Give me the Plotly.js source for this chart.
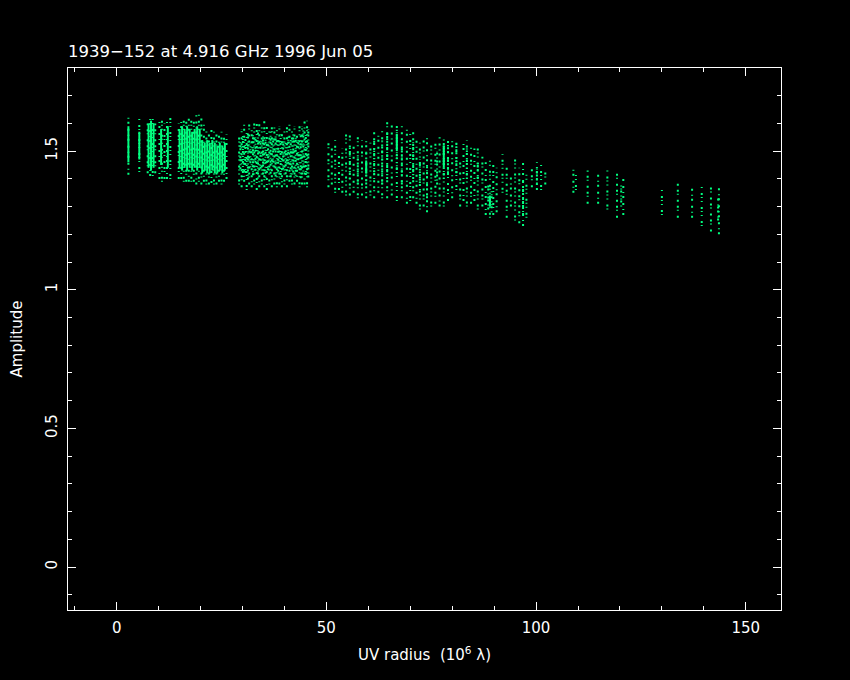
<!DOCTYPE html>
<html>
<head>
<meta charset="utf-8">
<script src="https://cdn.plot.ly/plotly-3.0.1.min.js"></script>
<style>html,body{margin:0;padding:0;background:#000;}#chart{width:850px;height:680px;}</style>
</head>
<body>
<div id="chart"></div>
<script>
// ---- Data (UV radius in 10^6 lambda, amplitude) ----
// Each visibility track: UV radius, lowest and highest amplitude of its scattered points
var trackX  = [2.8,5.4,7.4,8.0,8.6,9.2,10.2,10.8,11.4,12.0,12.8,14.8,15.4,16.0,16.6,17.2,17.8,18.4,19.0,19.6,20.2,20.8,21.4,22.0,22.6,23.2,23.8,24.4,25.0,25.6,26.2,
               29.2,29.8,30.4,31.0,31.6,32.2,32.8,33.4,34.0,34.6,35.2,35.8,36.4,37.0,37.6,38.2,38.8,39.4,40.0,40.6,41.2,41.8,42.4,43.0,43.6,44.2,44.8,45.4,
               50.5,51.3,52.1,53.0,53.8,54.7,55.6,56.5,57.5,58.5,59.5,60.5,61.4,62.4,63.3,64.5,65.6,66.8,68.0,69.2,70.0,70.7,71.5,72.3,73.2,74.0,75.0,76.0,77.0,78.0,79.0,80.0,81.0,81.9,82.7,83.5,84.5,85.3,86.1,87.2,88.0,89.0,89.8,90.6,92.0,93.0,94.0,95.0,96.0,96.9,97.7,99.0,100.2,101.2,102.2,
               108.9,109.5,112.3,114.8,117.0,119.3,120.8,130.0,133.8,137.2,139.5,141.7,143.6];
var trackLo = [1.415,1.425,1.42,1.41,1.41,1.42,1.40,1.39,1.40,1.40,1.40,1.40,1.40,1.39,1.39,1.39,1.39,1.39,1.38,1.39,1.38,1.39,1.38,1.38,1.385,1.38,1.38,1.39,1.38,1.39,1.40,
               1.38,1.37,1.39,1.36,1.38,1.37,1.38,1.36,1.37,1.38,1.37,1.36,1.38,1.37,1.38,1.37,1.38,1.37,1.38,1.37,1.39,1.38,1.38,1.39,1.37,1.38,1.38,1.37,
               1.37,1.38,1.35,1.36,1.35,1.34,1.34,1.35,1.33,1.34,1.33,1.34,1.33,1.35,1.33,1.33,1.34,1.32,1.33,1.31,1.32,1.33,1.31,1.29,1.30,1.28,1.30,1.31,1.30,1.30,1.32,1.33,1.36,1.30,1.32,1.30,1.31,1.32,1.29,1.30,1.27,1.26,1.27,1.28,1.35,1.26,1.30,1.25,1.24,1.23,1.26,1.37,1.36,1.36,1.38,
               1.35,1.36,1.31,1.31,1.29,1.26,1.27,1.27,1.26,1.26,1.23,1.21,1.20];
var trackHi = [1.625,1.62,1.60,1.63,1.62,1.60,1.61,1.62,1.60,1.61,1.62,1.60,1.61,1.62,1.62,1.63,1.61,1.62,1.63,1.64,1.62,1.60,1.58,1.57,1.58,1.57,1.56,1.57,1.57,1.56,1.56,
               1.55,1.58,1.60,1.57,1.61,1.59,1.60,1.61,1.60,1.59,1.61,1.60,1.58,1.59,1.60,1.58,1.59,1.57,1.58,1.59,1.60,1.58,1.59,1.57,1.60,1.59,1.61,1.61,
               1.54,1.51,1.54,1.49,1.51,1.56,1.57,1.53,1.55,1.54,1.55,1.53,1.58,1.56,1.58,1.61,1.60,1.60,1.59,1.58,1.57,1.58,1.54,1.53,1.55,1.55,1.53,1.54,1.55,1.55,1.54,1.55,1.54,1.47,1.53,1.54,1.52,1.51,1.52,1.48,1.46,1.47,1.45,1.44,1.49,1.44,1.42,1.48,1.44,1.46,1.42,1.45,1.46,1.46,1.43,
               1.44,1.42,1.43,1.42,1.43,1.43,1.40,1.365,1.385,1.38,1.38,1.38,1.37];

// Denser parts of the tracks (where points crowd together)
var denseX  = [29.5,30.1,30.7,31.3,31.9,32.5,33.1,33.7,34.3,34.9,35.5,36.1,36.7,37.3,37.9,38.5,39.1,39.7,40.3,40.9,41.5,42.1,42.7,43.3,43.9,44.5,45.1,45.7,
               55.6,57.5,59.5,61.4,63.3,64.5,66.8,68.0,70.7,72.3,74.0,76.4,78.0,79.0,81.0,83.5,86.1,88.6,89.4,96.9,100.2,120.3,143.4];
var denseLo = [1.435,1.407,1.421,1.398,1.442,1.413,1.429,1.401,1.437,1.416,1.404,1.431,1.419,1.445,1.409,1.426,1.400,1.434,1.417,1.440,1.406,1.423,1.411,1.438,1.402,1.427,1.414,1.405,
               1.40,1.38,1.38,1.40,1.38,1.40,1.42,1.38,1.40,1.36,1.33,1.38,1.40,1.42,1.42,1.40,1.40,1.29,1.28,1.27,1.38,1.30,1.25];
var denseHi = [1.54,1.56,1.55,1.57,1.53,1.56,1.55,1.57,1.54,1.56,1.55,1.53,1.57,1.55,1.56,1.54,1.56,1.55,1.53,1.56,1.54,1.57,1.55,1.54,1.56,1.58,1.57,1.58,
               1.52,1.48,1.50,1.54,1.54,1.57,1.58,1.52,1.53,1.47,1.45,1.50,1.53,1.52,1.53,1.51,1.46,1.38,1.36,1.40,1.44,1.38,1.33];

// Solid cores of the most crowded tracks
var coreX  = [2.8,5.4,7.6,8.2,8.8,10.6,12.2,15.0,15.6,16.2,16.8,17.4,18.0,18.6,19.2,19.8,20.4,21.0,21.6,22.2,22.8,23.4,24.0,24.6,25.2,25.8,59.5,66.8,78.0,89.0];
var coreLo = [1.46,1.47,1.44,1.43,1.44,1.45,1.44,1.44,1.43,1.44,1.43,1.44,1.43,1.44,1.43,1.44,1.42,1.43,1.42,1.42,1.43,1.42,1.42,1.43,1.42,1.43,1.42,1.50,1.44,1.30];
var coreHi = [1.59,1.57,1.60,1.61,1.60,1.58,1.59,1.58,1.59,1.58,1.59,1.58,1.57,1.58,1.59,1.58,1.54,1.53,1.54,1.53,1.54,1.53,1.52,1.53,1.52,1.53,1.46,1.56,1.52,1.34];

var titleText = '1939\u2212152 at 4.916 GHz 1996 Jun 05';
var xTitle = 'UV radius&nbsp;&nbsp;(10<sup>6</sup> \u03bb)';
var yTitle = 'Amplitude';
var xTickVals = [0, 50, 100, 150];
var yTickVals = [0, 0.5, 1, 1.5];
var yTickText = ['0', '0.5', '1', '1.5'];

// split a set of tracks into n interleaved groups of vertical segments
function segGroups(xs, lo, hi, n) {
  var groups = [];
  for (var g = 0; g < n; g++) groups.push({x: [], y: []});
  for (var i = 0; i < xs.length; i++) {
    var G = groups[i % n];
    G.x.push(xs[i], xs[i], null);
    G.y.push(lo[i], hi[i], null);
  }
  return groups;
}

var green = '#00ff80';
var sparseDash = ['2px,3px,1px,4px,2px,5px', '1px,2px,2px,5px,1px,3px', '2px,5px,1px,2px,2px,4px'];
var denseDash = ['2px,2px,1px,3px,2px,1px', '1px,3px,2px,1px,1px,2px', '2px,1px,1px,4px,2px,2px'];

var traces = [];
segGroups(trackX, trackLo, trackHi, 3).forEach(function (g, k) {
  traces.push({x: g.x, y: g.y, type: 'scatter', mode: 'lines', connectgaps: false,
    line: {color: green, width: 2, dash: sparseDash[k]}, hoverinfo: 'skip'});
});
segGroups(denseX, denseLo, denseHi, 3).forEach(function (g, k) {
  traces.push({x: g.x, y: g.y, type: 'scatter', mode: 'lines', connectgaps: false,
    line: {color: green, width: 2, dash: denseDash[k]}, hoverinfo: 'skip'});
});
segGroups(coreX, coreLo, coreHi, 1).forEach(function (g) {
  traces.push({x: g.x, y: g.y, type: 'scatter', mode: 'lines', connectgaps: false,
    line: {color: green, width: 2}, hoverinfo: 'skip'});
});

var tickFont = {family: 'DejaVu Sans', size: 15, color: '#ffffff'};

var layout = {
  width: 850, height: 680,
  paper_bgcolor: '#000000', plot_bgcolor: '#000000',
  showlegend: false,
  margin: {l: 68, r: 69, t: 68, b: 70},
  title: {text: titleText, x: 0, xref: 'paper', xanchor: 'left',
          y: 1 - 51/680, yref: 'container', yanchor: 'middle',
          font: {family: 'DejaVu Sans', size: 16.5, color: '#ffffff'}},
  xaxis: {
    range: [-11.6, 158.4], showgrid: false, zeroline: false,
    showline: true, linecolor: '#ffffff', linewidth: 1, mirror: 'ticks',
    ticks: 'inside', ticklen: 8, tickwidth: 1, tickcolor: '#ffffff',
    tickmode: 'array', tickvals: xTickVals,
    minor: {dtick: 10, tick0: 0, ticks: 'inside', ticklen: 4, tickcolor: '#ffffff', showgrid: false},
    tickfont: tickFont, ticklabelstandoff: 4,
    title: {text: xTitle, font: {family: 'DejaVu Sans', size: 15, color: '#ffffff'}, standoff: 13}
  },
  yaxis: {
    range: [-0.155, 1.80], showgrid: false, zeroline: false,
    showline: true, linecolor: '#ffffff', linewidth: 1, mirror: 'ticks',
    ticks: 'inside', ticklen: 8, tickwidth: 1, tickcolor: '#ffffff',
    tickmode: 'array', tickvals: yTickVals, ticktext: yTickText, tickangle: -90,
    minor: {dtick: 0.1, tick0: 0, ticks: 'inside', ticklen: 4, tickcolor: '#ffffff', showgrid: false},
    tickfont: tickFont, ticklabelstandoff: 4,
    title: {text: yTitle, font: {family: 'DejaVu Sans', size: 15, color: '#ffffff'}, standoff: 16}
  }
};

Plotly.newPlot('chart', traces, layout, {displayModeBar: false, staticPlot: true});
</script>
</body>
</html>
